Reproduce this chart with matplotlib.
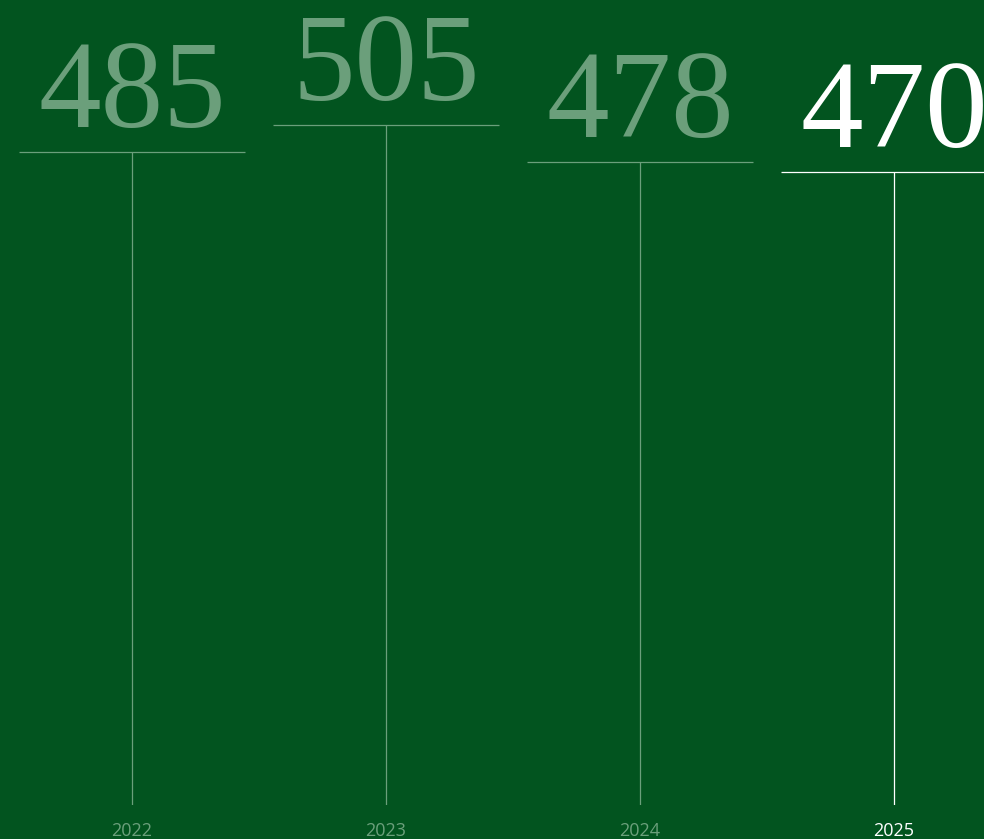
import matplotlib.pyplot as plt

years = ['2022', '2023', '2024', '2025']
values = [485, 505, 478, 470]
highlight = [False, False, False, True]

BG = '#02541f'
FADED = '#6b9f7b'
WHITE = '#ffffff'

fig = plt.figure(figsize=(9.84, 8.39), dpi=100)
fig.patch.set_facecolor(BG)
ax = fig.add_axes([0, 34 / 839, 1, 805 / 839])
ax.set_facecolor(BG)

x = list(range(len(years)))
half = 0.445
for xi, v, hl in zip(x, values, highlight):
    c = WHITE if hl else FADED
    ax.vlines(xi, 0, v, color=c, lw=0.9)
    ax.hlines(v, xi - half, xi + half, color=c, lw=0.9)
    ax.annotate(str(v), (xi, v), xytext=(0, 18), textcoords='offset points',
                ha='center', va='baseline', fontsize=90,
                family='Liberation Serif', color=c)

ax.set_xlim(-0.52, 3.355)
ax.set_ylim(0, 598)
ax.set_xticks(x)
ax.set_xticklabels(years, family='Open Sans', fontsize=13)
for lab, hl in zip(ax.get_xticklabels(), highlight):
    lab.set_color(WHITE if hl else FADED)
ax.tick_params(axis='x', length=0, pad=12)
ax.set_yticks([])
for s in ax.spines.values():
    s.set_visible(False)

fig.savefig('out.png', dpi=100, facecolor=BG)
